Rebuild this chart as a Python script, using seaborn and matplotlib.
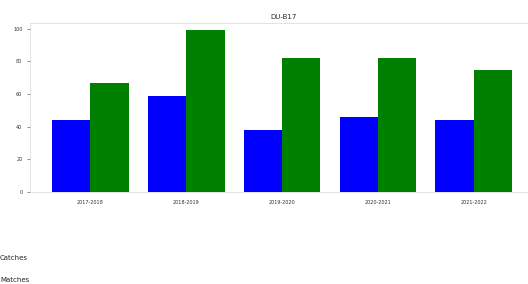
import matplotlib
matplotlib.use("Agg")
import matplotlib.pyplot as plt
import seaborn as sns
import pandas as pd
from matplotlib.patches import Patch

seasons = ["2017-2018", "2018-2019", "2019-2020", "2020-2021", "2021-2022"]
series_a = [44, 59, 38, 46, 44]
series_b = [67, 99, 82, 82, 75]
labels = ["Catches", "Matches"]
title = "DU-B17"

df = pd.DataFrame({
    "season": seasons * 2,
    "value": series_a + series_b,
    "kind": [labels[0]] * len(seasons) + [labels[1]] * len(seasons),
})

sns.set_style("white")
plt.rcParams["font.family"] = ["DejaVu Sans"]
fig = plt.figure(figsize=(5.28, 2.84), dpi=100)
ax = fig.add_axes([30 / 528, 92 / 284, 508 / 528, 169 / 284])
sns.barplot(data=df, x="season", y="value", hue="kind",
            palette=["#0000ff", "#008000"], saturation=1, width=0.8,
            linewidth=0, ax=ax, legend=False)
ax.set_xlim(-0.63, 4.67)
ax.set_ylim(0, 103.5)
ax.set_yticks([0, 20, 40, 60, 80, 100])
ax.set_xlabel("")
ax.set_ylabel("")
ax.set_title(title, fontsize=5, pad=3)
ax.tick_params(axis="both", labelsize=3.5, length=2, width=0.4, colors="#333333")
ax.tick_params(axis="y", left=True)
for s in ax.spines.values():
    s.set_color("#dddddd")
    s.set_linewidth(0.6)
ax.spines["right"].set_visible(False)

handles = [Patch(color="#0000ff", visible=False), Patch(color="#008000", visible=False)]
fig.legend(handles, labels, loc="upper left", bbox_to_anchor=(-0.012, 0.125),
           frameon=False, fontsize=5, handlelength=0, handletextpad=0,
           labelspacing=2.3)
fig.savefig("out.png", dpi=100)
